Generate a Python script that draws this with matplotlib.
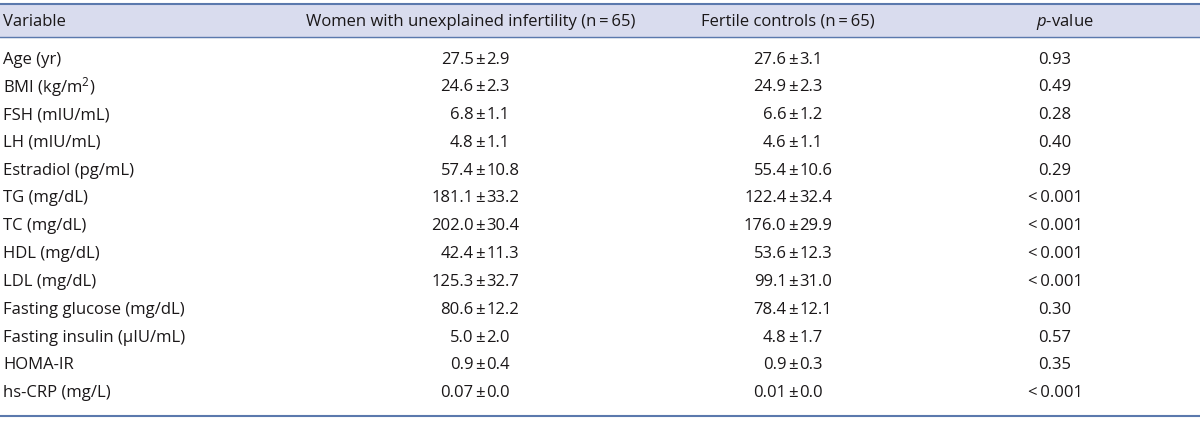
import matplotlib
matplotlib.use("Agg")
import matplotlib.pyplot as plt

# table content
variables = ["Age (yr)", "BMI (kg/m$^2$)", "FSH (mIU/mL)", "LH (mIU/mL)", "Estradiol (pg/mL)",
             "TG (mg/dL)", "TC (mg/dL)", "HDL (mg/dL)", "LDL (mg/dL)",
             "Fasting glucose (mg/dL)", "Fasting insulin (\u00b5IU/mL)", "HOMA-IR", "hs-CRP (mg/L)"]
infertile_mean = ["27.5", "24.6", "6.8", "4.8", "57.4", "181.1", "202.0", "42.4", "125.3", "80.6", "5.0", "0.9", "0.07"]
infertile_sd = ["2.9", "2.3", "1.1", "1.1", "10.8", "33.2", "30.4", "11.3", "32.7", "12.2", "2.0", "0.4", "0.0"]
control_mean = ["27.6", "24.9", "6.6", "4.6", "55.4", "122.4", "176.0", "53.6", "99.1", "78.4", "4.8", "0.9", "0.01"]
control_sd = ["3.1", "2.3", "1.2", "1.1", "10.6", "32.4", "29.9", "12.3", "31.0", "12.1", "1.7", "0.3", "0.0"]
p_values = ["0.93", "0.49", "0.28", "0.40", "0.29", "<\u20090.001", "<\u20090.001", "<\u20090.001",
            "<\u20090.001", "0.30", "0.57", "0.35", "<\u20090.001"]
headers = ["Variable", "Women with unexplained infertility (n\u2009=\u200965)",
           "Fertile controls (n\u2009=\u200965)", "$\\it{p}$-value"]

plt.rcParams['font.family'] = ['Open Sans', 'DejaVu Sans']
plt.rcParams['mathtext.fontset'] = 'custom'
plt.rcParams['mathtext.rm'] = 'Open Sans'
plt.rcParams['mathtext.it'] = 'Open Sans:italic'

txt = '#1a1718'
line_c = '#5b79ad'
fs = 12.0

fig = plt.figure(figsize=(12, 4.21), dpi=100)
ax = fig.add_axes([0, 0, 1, 1])
ax.set_xlim(0, 1200)
ax.set_ylim(421, 0)
ax.axis('off')

# header band and rules
ax.axhspan(4, 37, color='#d9dcee', zorder=0)
ax.axhline(4, color=line_c, lw=1.5)
ax.axhline(37, color=line_c, lw=1.0)
ax.axhline(416, color=line_c, lw=1.5)

var_x = 3
head_x = [471, 788, 1065]
pm_x = [480, 793]   # values are aligned on the plus-minus sign
p_x = 1055
off = 6.5

ax.text(var_x, 21.5, headers[0], ha='left', va='center', fontsize=fs, color=txt)
for x, h in zip(head_x, headers[1:]):
    ax.text(x, 21.5, h, ha='center', va='center', fontsize=fs, color=txt)

y0, dy = 59.5, 27.8
for i, v in enumerate(variables):
    y = y0 + i * dy
    ax.text(var_x, y, v, ha='left', va='center', fontsize=fs, color=txt)
    for x, m, s in [(pm_x[0], infertile_mean[i], infertile_sd[i]),
                    (pm_x[1], control_mean[i], control_sd[i])]:
        ax.text(x - off, y, m, ha='right', va='center', fontsize=fs, color=txt)
        ax.text(x, y, "\u00b1", ha='center', va='center', fontsize=fs, color=txt)
        ax.text(x + off, y, s, ha='left', va='center', fontsize=fs, color=txt)
    ax.text(p_x, y, p_values[i], ha='center', va='center', fontsize=fs, color=txt)

fig.savefig("out.png", dpi=100, facecolor='white')
